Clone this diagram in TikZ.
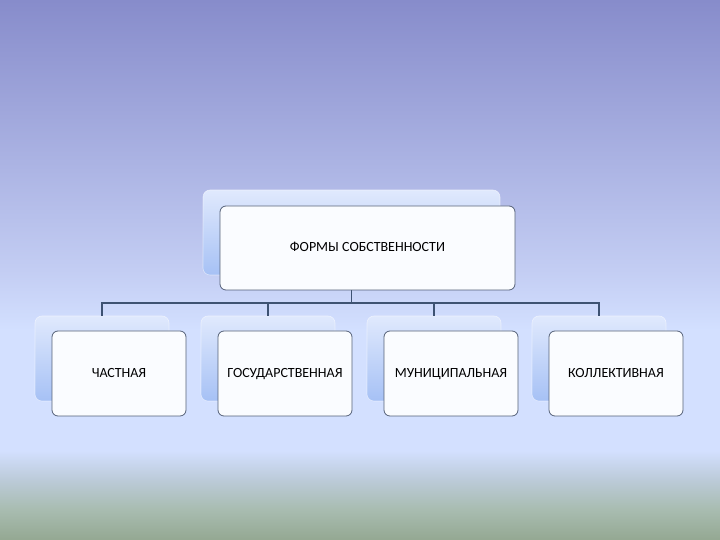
\documentclass[tikz,border=0pt]{standalone}
\usepackage{fontspec}
\setmainfont{Carlito}
\usetikzlibrary{positioning}

\definecolor{bgtop}{HTML}{878CCB}
\definecolor{bgmid}{HTML}{C3CDF3}
\definecolor{bglow}{HTML}{D3E0FF}
\definecolor{bgfog}{HTML}{BCCBD9}
\definecolor{bgsea}{HTML}{A8BCB0}
\definecolor{bgbot}{HTML}{94A892}
\definecolor{backt}{HTML}{E0E9FD}
\definecolor{backb}{HTML}{A6C1F5}
\definecolor{frontfill}{HTML}{FAFCFF}
\definecolor{frontline}{HTML}{556178}
\definecolor{connline}{HTML}{3E5272}

% slide background, 25bp = bottom edge, 75bp = top edge
\pgfdeclareverticalshading{slidebg}{100bp}{%
  color(0bp)=(bgbot); color(25bp)=(bgbot); color(27.8bp)=(bgsea);
  color(30.6bp)=(bgfog); color(33.3bp)=(bglow); color(44.4bp)=(bglow);
  color(50bp)=(bgmid); color(75bp)=(bgtop); color(100bp)=(bgtop)}

\begin{document}
\begin{tikzpicture}[
	x=1pt, y=1pt,
	every node/.style = {shape=rectangle, inner sep=0pt, outer sep=0pt, align=center},
	backbox/.style = {rounded corners=7pt, top color=backt, bottom color=backb, draw=white, draw opacity=0.5, line width=0.6pt},
	frontbox/.style = {rounded corners=6pt, fill=frontfill, draw=frontline, line width=0.8pt,
		font=\fontsize{14}{16}\selectfont, text height=9.5pt, text depth=2pt},
	conn/.style = {draw=connline, line width=1.3pt},
	]
% background
\shade[shading=slidebg] (0,0) rectangle (720,540);
\useasboundingbox (0,0) rectangle (720,540);

% back boxes
\node[backbox, minimum width=297, minimum height=85] (tb) at (351.5,307.5) {};
\node[backbox, minimum width=134, minimum height=85] (b1) at (102,181.5) {};
\node[backbox, minimum width=134, minimum height=85] (b2) at (268,181.5) {};
\node[backbox, minimum width=134, minimum height=85] (b3) at (434,181.5) {};
\node[backbox, minimum width=134, minimum height=85] (b4) at (599,181.5) {};

% connectors
\coordinate (bus) at (0,237);
\foreach \c in {b1,b2,b3,b4}
	\draw[conn] (tb.south) |- (\c.north |- bus) -- (\c.north);

% front boxes
\node[frontbox, minimum width=295, minimum height=84] (top) at (367.5,292) {ФОРМЫ СОБСТВЕННОСТИ};
\node[frontbox, minimum width=134, minimum height=85] (f1) at (119,166.5) {ЧАСТНАЯ};
\node[frontbox, minimum width=134, minimum height=85] (f2) at (285,166.5) {ГОСУДАРСТВЕННАЯ};
\node[frontbox, minimum width=134, minimum height=85] (f3) at (451,166.5) {МУНИЦИПАЛЬНАЯ};
\node[frontbox, minimum width=134, minimum height=85] (f4) at (616,166.5) {КОЛЛЕКТИВНАЯ};
\end{tikzpicture}
\end{document}
